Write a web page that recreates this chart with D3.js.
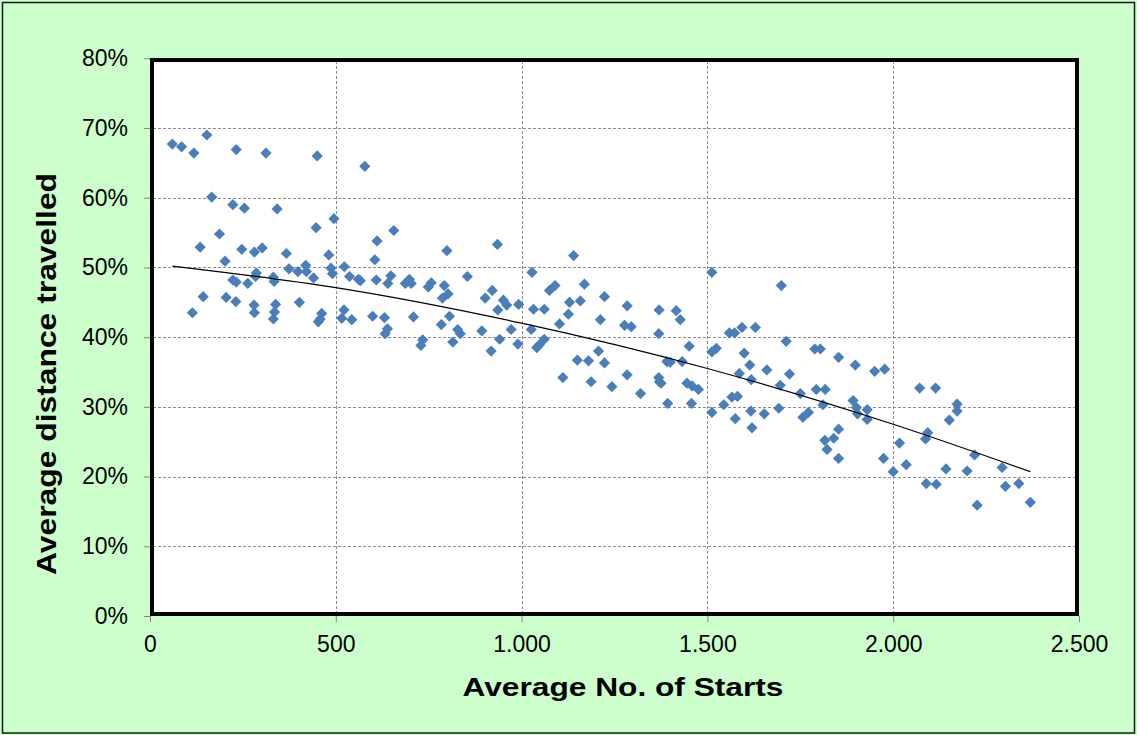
<!DOCTYPE html>
<html><head><meta charset="utf-8">
<script src="https://cdn.jsdelivr.net/npm/d3@7"></script>
<style>html,body{margin:0;padding:0;background:#CCFFCC;} svg{display:block}</style>
</head><body><svg id="c" width="1137" height="735"></svg>
<script>
// ---- data ----
const starts = [
 60,85,118,153,232,312,450,578,166,223,254,342,495,447,187,611,135,247,281,302,367,481,605,202,374,398,419,421,440,487,491,523,537,561,566,609,640,223,232,263,286,284,332,334,143,205,231,114,280,281,338,335,332,402,462,458,453,522,516,543,599,631,
 656,799,935,1140,648,687,698,703,749,757,792,787,802,854,921,902,951,960,936,992,1028,1075,1090,1169,1129,1158,1223,1284,1032,1061,1126,1212,709,806,
 784,828,835,893,972,1026,1102,639,633,734,729,815,941,918,990,1041,1048,1061,1207,1150,1180,1223,1111,1187,1243,1284,
 1512,1699,1370,1416,1427,
 1277,1295,1369,1559,1573,1593,1629,1451,1512,1524,1712,1789,1804,1853,1898,1391,1400,1432,1599,1614,1660,1586,1618,1721,1369,1371,1375,1445,1459,1476,1696,1750,1793,1817,1320,1566,1581,1393,1457,1544,1811,1512,1575,1617,1653,1692,1757,1772,1620,1853,1840,1816,1822,1853,1892,1901,1904,1930,1930,
 1950,1977,2071,2114,2172,2172,2151,2017,2093,2087,1974,2000,2035,2142,2199,2219,2293,2089,2116,2302,2338,2226,2369
];
const distance = [
 67.7,67.3,66.4,69.0,66.9,66.4,66.0,64.5,60.1,59.0,58.5,58.4,57.0,55.7,54.8,53.8,52.9,52.6,52.2,52.8,52.0,51.8,51.1,50.9,49.8,49.4,50.3,49.4,48.5,49.9,49.1,50.1,48.7,48.3,48.1,48.2,47.7,48.2,47.9,47.7,49.2,48.7,48.6,48.0,45.8,45.7,45.1,43.5,44.6,43.5,44.7,43.6,42.6,45.0,43.4,42.6,42.2,43.9,42.7,42.5,43.0,42.8,
 55.3,52.4,53.3,51.7,48.8,47.7,48.3,47.7,47.2,47.8,47.4,45.6,46.2,48.7,46.7,45.6,45.3,44.6,43.9,44.7,49.3,46.7,47.4,47.6,45.0,45.2,45.8,44.5,44.0,44.0,43.3,42.5,42.9,43.0,
 41.8,41.1,40.5,40.9,41.1,41.1,41.9,41.2,40.5,39.6,38.8,39.3,39.7,38.0,39.0,38.5,38.9,39.7,38.0,36.7,36.6,36.3,34.2,33.6,32.9,34.6,
 49.3,47.4,43.9,43.8,42.5,
 41.7,41.5,40.5,40.6,40.6,41.4,41.4,38.7,37.9,38.4,39.4,38.3,38.3,37.1,36.0,36.5,36.4,36.5,37.7,36.0,35.3,34.8,33.9,34.7,34.2,33.6,33.4,33.4,33.0,32.5,33.1,31.9,32.5,32.5,31.9,31.4,31.5,30.5,30.5,30.3,30.3,29.2,28.3,29.4,29.0,29.8,28.5,29.2,27.0,26.8,25.5,25.2,23.9,22.6,30.9,29.9,29.0,29.6,28.2,
 35.1,35.4,32.7,32.7,30.4,29.4,28.1,24.8,26.3,25.4,22.6,20.7,21.7,21.1,20.8,23.1,21.3,19.0,18.9,18.6,19.0,15.9,16.3
];
// trendline
const trendStarts = [60,500,1000,1500,2000,2369];
const trendDistance = [50.2,47.1,42.0,35.5,27.5,20.7];
const xTicks = [0,500,1000,1500,2000,2500];
const xTickLabels = ["0","500","1.000","1.500","2.000","2.500"];
const yTicks = [0,10,20,30,40,50,60,70,80];
const yTickLabels = ["0%","10%","20%","30%","40%","50%","60%","70%","80%"];
const xTitle = "Average No. of Starts";
const yTitle = "Average distance travelled";

// ---- drawing ----
const W = 1137, H = 735;
const FONT = "'Liberation Sans', Arial, sans-serif";
const svg = d3.select("#c");
svg.append("rect").attr("x",0).attr("y",0).attr("width",W).attr("height",H).attr("fill","#CCFFCC");
svg.append("rect").attr("x",2.5).attr("y",2.5).attr("width",W-5).attr("height",H-4.5)
  .attr("fill","none").attr("stroke","#1a1a1a").attr("stroke-width",1.5);

const x = d3.scaleLinear().domain([0,2500]).range([150,1079]);
const y = d3.scaleLinear().domain([0,80]).range([616,58.3]);

svg.append("rect").attr("x",150).attr("y",58).attr("width",929).attr("height",558).attr("fill","#fff");

// gridlines
const grid = svg.append("g").attr("stroke","#8c8c8c").attr("stroke-width",1).attr("stroke-dasharray","3,2");
grid.selectAll("line.h").data(yTicks.filter(d=>d>0 && d<80)).join("line").attr("class","h")
  .attr("x1",153).attr("x2",1077).attr("y1",d=>Math.round(y(d))+0.5).attr("y2",d=>Math.round(y(d))+0.5);
grid.selectAll("line.v").data(xTicks.filter(d=>d>0 && d<2500)).join("line").attr("class","v")
  .attr("y1",61).attr("y2",614).attr("x1",d=>Math.round(x(d))+0.5).attr("x2",d=>Math.round(x(d))+0.5);

// axes
const ax = svg.append("g").attr("transform","translate(0,616)")
  .call(d3.axisBottom(x).tickValues(xTicks).tickFormat((d,i)=>xTickLabels[i]).tickSize(6).tickPadding(14));
const ay = svg.append("g").attr("transform","translate(150,0)")
  .call(d3.axisLeft(y).tickValues(yTicks).tickFormat((d,i)=>yTickLabels[i]).tickSize(6).tickPadding(16));
[ax,ay].forEach(a=>{
  a.select(".domain").remove();
  a.selectAll(".tick line").attr("stroke","#888");
  a.selectAll(".tick text").attr("fill","#000").style("font-family",FONT).style("font-size","23px");
});

// points
const pts = starts.map((s,i)=>({x:s,y:distance[i]}));
const r = 5.6;
svg.append("g").selectAll("path").data(pts).join("path")
  .attr("transform",d=>`translate(${x(d.x)},${y(d.y)})`)
  .attr("d",`M0,${-r}L${r},0L0,${r}L${-r},0Z`)
  .attr("fill","#4A7EBB");

// trendline
const trend = trendStarts.map((s,i)=>[s,trendDistance[i]]);
svg.append("path").datum(trend).attr("fill","none").attr("stroke","#000").attr("stroke-width",1.2)
  .attr("d",d3.line().curve(d3.curveMonotoneX).x(d=>x(d[0])).y(d=>y(d[1])));

// plot frame
svg.append("rect").attr("x",152).attr("y",60).attr("width",925).attr("height",554)
  .attr("fill","none").attr("stroke","#000").attr("stroke-width",4);

// titles
svg.append("text").attr("x",623).attr("y",696).attr("text-anchor","middle")
  .attr("textLength",321).attr("lengthAdjust","spacingAndGlyphs")
  .style("font-family",FONT).style("font-weight","bold").style("font-size","26px").text(xTitle);
svg.append("text").attr("transform","translate(56,374) rotate(-90)").attr("text-anchor","middle")
  .attr("textLength",402).attr("lengthAdjust","spacingAndGlyphs")
  .style("font-family",FONT).style("font-weight","bold").style("font-size","27px").text(yTitle);
</script>
</body></html>
